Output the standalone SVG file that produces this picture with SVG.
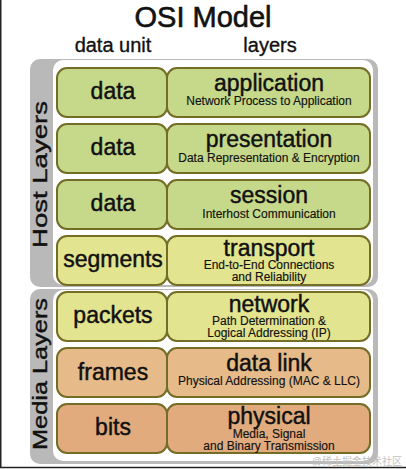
<svg xmlns="http://www.w3.org/2000/svg" width="406" height="469" viewBox="0 0 406 469">
<style>
text{font-family:"Liberation Sans",Arial,sans-serif;fill:#111;text-anchor:middle;stroke:#111;stroke-width:0.35}
.t{font-size:29px;stroke-width:0.6}
.h{font-size:20px}
.u{font-size:23px;stroke-width:0.45}
.n{font-size:23px;stroke-width:0.45}
.s{font-size:12px;stroke-width:0.15}
.v{font-size:20px;stroke-width:0.4}
.box{stroke:#736d28;stroke-width:2}
.g{fill:#c6d98b}
.y{fill:#e3e48f}
.o1{fill:#e6bb89}
.o2{fill:#e1ab7e}
.gray{fill:#b9b9b9}
.white{fill:#fff}
.wm{font-family:"Liberation Sans","Noto Sans CJK SC",sans-serif;font-size:10px;fill:#c2c2c2;stroke:none;text-anchor:end}
</style>
<rect width="406" height="469" fill="#fff"/>
<path d="M0.75 0V467.5H406" fill="none" stroke="#222" stroke-width="1.5"/>

<g id="title">
<text class="t" x="203" y="27">OSI Model</text>
<text class="h" x="113" y="52">data unit</text>
<text class="h" x="270" y="52">layers</text>
</g>

<g id="host-panel">
<rect class="gray" x="30" y="59" width="348" height="228" rx="10"/>
<rect class="white" x="53" y="60" width="320" height="225" rx="10"/>
<text class="v" transform="translate(47,174.5) rotate(-90)" textLength="147" lengthAdjust="spacingAndGlyphs">Host Layers</text>
</g>

<g id="media-panel">
<rect class="gray" x="30" y="289" width="348" height="175" rx="10"/>
<rect class="white" x="53" y="290" width="320" height="171" rx="10"/>
<text class="v" transform="translate(47,374) rotate(-90)" textLength="152" lengthAdjust="spacingAndGlyphs">Media Layers</text>
</g>

<g id="application">
<rect class="box g" x="57" y="68" width="110" height="49" rx="10"/>
<rect class="box g" x="167" y="68" width="203" height="49" rx="10"/>
<text class="u" x="113" y="99">data</text>
<text class="n" x="269" y="91">application</text>
<text class="s" x="269" y="105">Network Process to Application</text>
</g>

<g id="presentation">
<rect class="box g" x="57" y="124" width="110" height="49" rx="10"/>
<rect class="box g" x="167" y="124" width="203" height="49" rx="10"/>
<text class="u" x="113" y="155">data</text>
<text class="n" x="269" y="147">presentation</text>
<text class="s" x="269" y="162">Data Representation &amp; Encryption</text>
</g>

<g id="session">
<rect class="box g" x="57" y="180" width="110" height="49" rx="10"/>
<rect class="box g" x="167" y="180" width="203" height="49" rx="10"/>
<text class="u" x="113" y="211">data</text>
<text class="n" x="269" y="203">session</text>
<text class="s" x="269" y="218">Interhost Communication</text>
</g>

<g id="transport">
<rect class="box y" x="57" y="236" width="110" height="49" rx="10"/>
<rect class="box y" x="167" y="236" width="203" height="49" rx="10"/>
<text class="u" x="113" y="267">segments</text>
<text class="n" x="269" y="256">transport</text>
<text class="s" x="269" y="268.5">End-to-End Connections</text>
<text class="s" x="269" y="280.5">and Reliability</text>
</g>

<g id="network">
<rect class="box y" x="57" y="292" width="110" height="49" rx="10"/>
<rect class="box y" x="167" y="292" width="203" height="49" rx="10"/>
<text class="u" x="113" y="323">packets</text>
<text class="n" x="269" y="312">network</text>
<text class="s" x="269" y="324.5">Path Determination &amp;</text>
<text class="s" x="269" y="336.5">Logical Addressing (IP)</text>
</g>

<g id="datalink">
<rect class="box o1" x="57" y="348" width="110" height="49" rx="10"/>
<rect class="box o1" x="167" y="348" width="203" height="49" rx="10"/>
<text class="u" x="113" y="380">frames</text>
<text class="n" x="269" y="371">data link</text>
<text class="s" x="269" y="385">Physical Addressing (MAC &amp; LLC)</text>
</g>

<g id="physical">
<rect class="box o2" x="57" y="404" width="110" height="49" rx="10"/>
<rect class="box o2" x="167" y="404" width="203" height="49" rx="10"/>
<text class="u" x="113" y="435">bits</text>
<text class="n" x="269" y="424">physical</text>
<text class="s" x="269" y="437.5">Media, Signal</text>
<text class="s" x="269" y="449.5">and Binary Transmission</text>
</g>

<g id="connectors"></g>

<text class="wm" x="402" y="465">@稀土掘金技术社区</text>
</svg>
